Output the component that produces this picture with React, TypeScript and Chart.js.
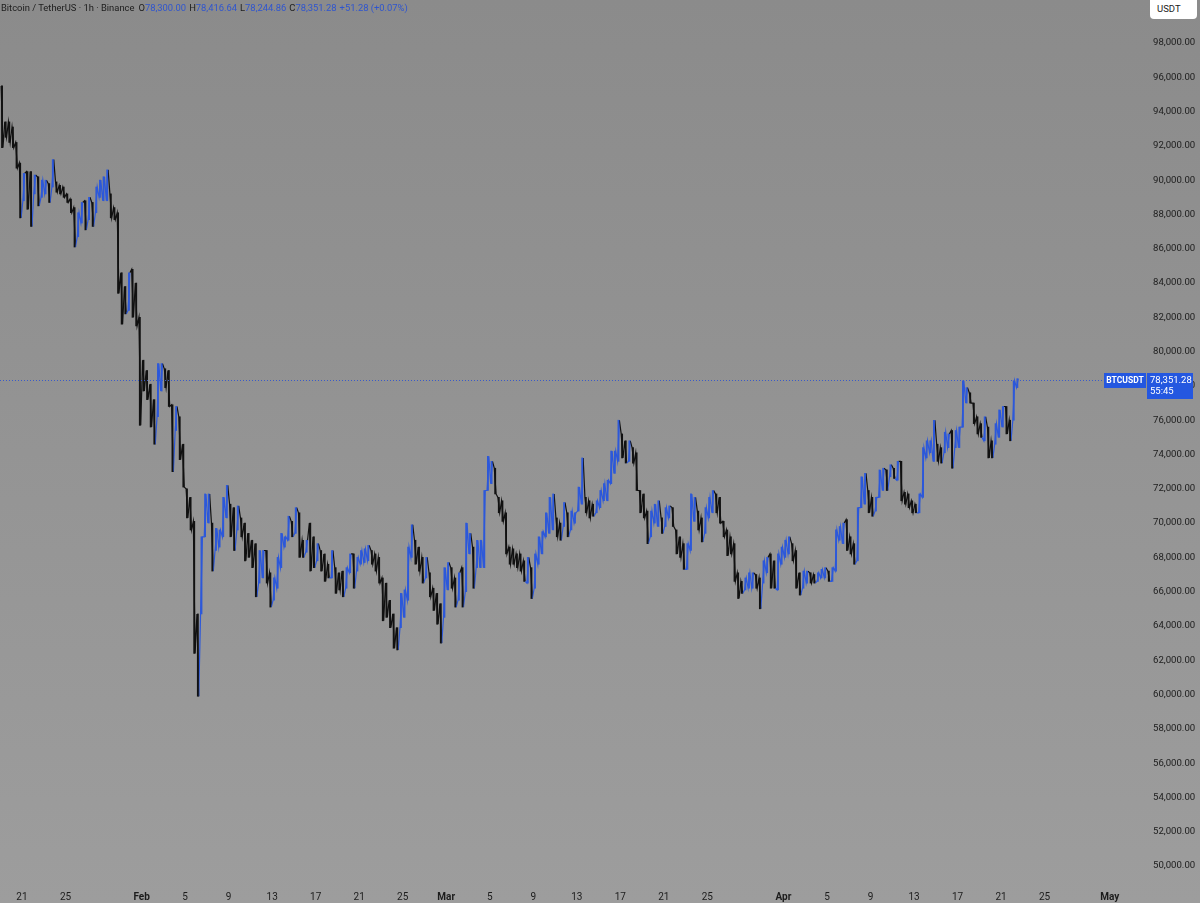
import React, { useEffect, useRef } from "react";
import { Chart, registerables } from "chart.js";

Chart.register(...registerables);

// BTCUSDT, 8-hour ranges (hours counted from 21 Jan 00:00)
const HOURS_PER_PERIOD = 8;
const FIRST_PERIOD_START = -48; // 19 Jan 00:00

const periodHigh = [
  95500, 93400, 93400, 93100, 92200, 91000, 90400, 90500, 90500, 90300, 90200, 90000,
  90000, 89800, 91200, 89900, 89700, 89600, 89200, 88900, 88400, 88100, 88700, 88800,
  89000, 88700, 89600, 90000, 90200, 90600, 89200, 88400, 88100, 84600, 83800, 84600,
  84800, 84000, 82000, 79500, 78900, 78100, 77200, 79300, 79300, 79000, 78900, 76900,
  76800, 76200, 74600, 72000, 71500, 70100, 64700, 69200, 71700, 71700, 70000, 69700,
  69600, 71500, 72200, 71100, 70900, 71000, 70300, 70000, 69400, 69000, 68800, 68400,
  68400, 68400, 67100, 66800, 68000, 69400, 69200, 70400, 70100, 70900, 70600, 69000,
  69000, 70000, 69200, 68800, 68400, 68200, 67600, 68400, 67400, 67100, 67200, 67400,
  68200, 68200, 68000, 68400, 68500, 68700, 68400, 68200, 68000, 66800, 66500, 65500,
  64700, 63900, 65900, 66100, 68600, 69900, 69000, 68600, 68000, 68000, 67100, 66200,
  65900, 65300, 67400, 67700, 67400, 66800, 67100, 67400, 70000, 69400, 68600, 69000,
  69000, 71900, 73900, 73600, 73200, 71500, 71300, 70600, 68600, 68500, 68200, 68200,
  67800, 68000, 67400, 68200, 69200, 69500, 70600, 71500, 71700, 70300, 70000, 71200,
  70600, 70700, 70600, 72100, 73800, 71500, 71300, 71100, 71300, 71900, 72300, 72500,
  74200, 74200, 76000, 75200, 74800, 74800, 74400, 74100, 71900, 71700, 70700, 70700,
  71100, 71300, 70300, 70900, 71000, 70900, 69600, 69200, 68800, 68800, 71700, 71500,
  70700, 70300, 70900, 71500, 71900, 71700, 71500, 70100, 69600, 69200, 68800, 67100,
  66600, 66800, 67100, 67100, 67000, 66800, 67800, 68000, 68200, 67800, 68200, 68600,
  69000, 69200, 68800, 68400, 67100, 67200, 67200, 67100, 67000, 67100, 67300, 67400,
  67200, 67400, 69600, 69800, 70000, 70200, 69200, 68800, 70900, 72700, 72900, 71900,
  71500, 71500, 73100, 73200, 73100, 73400, 73200, 73600, 73600, 71800, 71700, 71300,
  71100, 71700, 74400, 74800, 74800, 76000, 74600, 74400, 75300, 75200, 75400, 75400,
  75600, 78300, 77900, 77600, 77000, 76200, 75800, 76200, 75600, 74800, 75800, 76600,
  76800, 76800, 76000, 78300, 78420,
];

const periodLow = [
  91900, 92500, 92200, 91900, 90700, 87800, 88800, 88300, 87300, 89200, 88500, 89000,
  89200, 88700, 89600, 89300, 89200, 89000, 88700, 88100, 86100, 86700, 87500, 87100,
  87700, 87300, 88100, 89000, 88800, 88800, 87800, 87700, 83400, 81600, 82200, 82400,
  82000, 81500, 75700, 77700, 77200, 75600, 74600, 76200, 77700, 77900, 76800, 73000,
  75400, 73700, 72100, 70300, 69600, 62400, 59900, 64700, 69200, 70000, 67200, 68400,
  68600, 69200, 70300, 69200, 68400, 69600, 69200, 67800, 68000, 67400, 65700, 66500,
  66800, 66500, 65100, 65500, 66200, 67400, 68600, 69000, 69200, 69400, 68000, 68000,
  68300, 67200, 67400, 67800, 67200, 66600, 66800, 66800, 65900, 66100, 65700, 66200,
  67100, 66200, 67200, 67600, 67700, 67800, 67600, 67200, 66500, 64300, 64500, 63900,
  62700, 62600, 63900, 64500, 65500, 68000, 67600, 67200, 66500, 66800, 65700, 64900,
  64100, 63000, 64500, 66100, 66200, 65100, 65500, 65100, 66000, 68200, 66200, 67400,
  67400, 67400, 71900, 72300, 71700, 70600, 70100, 68200, 67600, 67600, 67400, 67200,
  66600, 66500, 65600, 66200, 67600, 68200, 69200, 69400, 69600, 69200, 69000, 69800,
  69200, 69600, 70000, 70700, 71100, 70600, 70300, 70400, 70600, 70900, 71300, 71300,
  72300, 72900, 73600, 73800, 73500, 73600, 73500, 71900, 70600, 70300, 68800, 69200,
  70000, 69800, 69400, 69800, 70300, 69800, 68200, 68000, 67300, 67300, 68400, 70100,
  69600, 68900, 69400, 70300, 70600, 70600, 70000, 69200, 68100, 68200, 66600, 65600,
  65900, 66100, 66200, 66200, 66200, 65000, 66500, 67100, 66200, 66200, 66100, 67600,
  68000, 68200, 67800, 66200, 65800, 66200, 66500, 66500, 66500, 66600, 66800, 66800,
  66600, 66600, 67200, 69000, 68800, 68400, 68200, 67600, 67800, 70900, 71100, 70600,
  70400, 70700, 71500, 71900, 71900, 72700, 72600, 72500, 71300, 71100, 70900, 70600,
  70600, 70600, 71500, 73800, 74100, 73600, 73600, 73500, 74100, 74400, 73200, 74400,
  74400, 75600, 77000, 77000, 75800, 75200, 75000, 74800, 73800, 73800, 74600, 75000,
  75600, 75200, 74800, 76000, 77900,
];

// time axis: days counted from 21 Jan
const tickDays = [0, 4, 11, 15, 19, 23, 27, 31, 35, 39, 43, 47, 51, 55, 59, 63, 70, 74, 78, 82, 86, 90, 94, 100];
const tickLabels = ["21", "25", "Feb", "5", "9", "13", "17", "21", "25", "Mar", "5", "9", "13", "17", "21", "25", "Apr", "5", "9", "13", "17", "21", "25", "May"];

const priceTicks = [
  50000, 52000, 54000, 56000, 58000, 60000, 62000, 64000, 66000, 68000, 70000, 72000, 74000,
  76000, 78000, 80000, 82000, 84000, 86000, 88000, 90000, 92000, 94000, 96000, 98000,
];

const lastPrice = 78351.28;
const lastPriceLabel = "78,351.28";
const countdownLabel = "55:45";
const symbolLabel = "BTCUSDT";

const UP = "#2c58da";
const DOWN = "#111111";
const TAG = "#2457e0";
const FONT = "Roboto";

function fmt(v: number): string {
  const s = Math.round(v).toString();
  return s.replace(/\B(?=(\d{3})+(?!\d))/g, ",") + ".00";
}

const bgPlugin = {
  id: "bgGradient",
  beforeDraw(chart: any) {
    const { ctx, width, height } = chart;
    const g = ctx.createLinearGradient(0, 0, 0, height);
    g.addColorStop(0, "#8b8b8b");
    g.addColorStop(1, "#9d9d9d");
    ctx.save();
    ctx.fillStyle = g;
    ctx.fillRect(0, 0, width, height);
    ctx.restore();
  },
};

const tagPlugin = {
  id: "lastPriceTag",
  afterDraw(chart: any) {
    const { ctx } = chart;
    const ys = chart.scales.y;
    const y = Math.round(ys.getPixelForValue(lastPrice)) + 0.5;
    ctx.save();
    ctx.strokeStyle = "#3a5bc8";
    ctx.lineWidth = 1;
    ctx.setLineDash([1, 2]);
    ctx.beginPath();
    ctx.moveTo(0, y);
    ctx.lineTo(1104, y);
    ctx.stroke();
    ctx.setLineDash([]);
    ctx.fillStyle = TAG;
    ctx.fillRect(1104, y - 7.5, 42, 15);
    ctx.fillRect(1147, y - 7.5, 46, 26);
    ctx.fillStyle = "#ffffff";
    ctx.textBaseline = "middle";
    ctx.textAlign = "center";
    ctx.font = `bold 8.5px ${FONT}`;
    ctx.fillText(symbolLabel, 1125, y + 0.5);
    ctx.textAlign = "left";
    ctx.font = `9.5px ${FONT}`;
    ctx.fillText(lastPriceLabel, 1150, y + 0.5);
    ctx.fillText(countdownLabel, 1150, y + 11.5);
    ctx.restore();
  },
};

export default function App() {
  const ref = useRef<HTMLCanvasElement>(null);

  useEffect(() => {
    document.body.style.margin = "0";
    const up = periodHigh.map((h, i) => {
      const mid = (h + periodLow[i]) / 2;
      const prev = i > 0 ? (periodHigh[i - 1] + periodLow[i - 1]) / 2 : mid + 1;
      return mid >= prev;
    });
    const wicks = periodHigh.map((h, i) => ({
      x: FIRST_PERIOD_START + HOURS_PER_PERIOD * (i + 0.5),
      y: [periodLow[i], h],
    }));
    const path: { x: number; y: number }[] = [];
    periodHigh.forEach((h, i) => {
      const c = FIRST_PERIOD_START + HOURS_PER_PERIOD * (i + 0.5);
      const first = up[i] ? periodLow[i] : h;
      const second = up[i] ? h : periodLow[i];
      path.push({ x: c - 2, y: first });
      path.push({ x: c + 2, y: second });
    });

    const chart = new Chart(ref.current as HTMLCanvasElement, {
      type: "bar",
      data: {
        datasets: [
          {
            type: "bar",
            data: wicks as any,
            backgroundColor: up.map((u) => (u ? UP : DOWN)),
            borderWidth: 0,
            borderSkipped: false,
            barThickness: 1.2,
            minBarLength: 1,
          } as any,
          {
            type: "line",
            data: path as any,
            borderWidth: 1.2,
            pointRadius: 0,
            tension: 0,
            borderColor: DOWN,
            segment: {
              borderColor: (ctx: any) => (up[Math.floor(ctx.p1DataIndex / 2)] ? UP : DOWN),
            },
          } as any,
        ],
      },
      options: {
        animation: false,
        responsive: true,
        maintainAspectRatio: false,
        layout: { padding: 0 },
        plugins: { legend: { display: false }, tooltip: { enabled: false } },
        scales: {
          x: {
            type: "linear",
            offset: false,
            min: -48.5,
            max: 2466.6,
            grid: { display: false, drawTicks: false, offset: false },
            border: { display: false },
            afterBuildTicks: (s: any) => {
              s.ticks = tickDays.map((d) => ({ value: d * 24 }));
            },
            afterFit: (s: any) => {
              s.height = 26;
              s.paddingLeft = 0;
              s.paddingRight = 0;
            },
            ticks: {
              autoSkip: false,
              maxRotation: 0,
              padding: 14,
              color: "#1c1c1c",
              font: (ctx: any) => ({
                family: FONT,
                size: 10,
                weight: /^[A-Za-z]/.test(tickLabels[ctx.index] || "") ? "bold" : "normal",
              }),
              callback: (_v: any, i: number) => tickLabels[i],
            },
          },
          y: {
            type: "linear",
            position: "right",
            min: 49358,
            max: 100508,
            grid: { display: false, drawTicks: false },
            border: { display: false },
            afterBuildTicks: (s: any) => {
              s.ticks = priceTicks.map((v) => ({ value: v }));
            },
            afterFit: (s: any) => {
              s.width = 60;
              s.paddingTop = 0;
              s.paddingBottom = 0;
            },
            ticks: {
              crossAlign: "near",
              padding: 13,
              color: "#1c1c1c",
              font: { family: FONT, size: 9.6 },
              callback: (v: any) => fmt(Number(v)),
            },
          },
        },
      } as any,
      plugins: [bgPlugin, tagPlugin],
    });
    return () => chart.destroy();
  }, []);

  const blue = { color: "#2f55cf" };
  return (
    <div style={{ position: "fixed", left: 0, top: 0, width: 1200, height: 903, overflow: "hidden" }}>
      <canvas ref={ref} />
      <div
        style={{
          position: "absolute",
          left: 1,
          top: 2,
          fontFamily: FONT,
          fontSize: 9.4,
          lineHeight: "12px",
          color: "#1c1c1c",
          whiteSpace: "nowrap",
        }}
      >
        <span>Bitcoin / TetherUS · 1h · Binance</span>
        <span style={{ marginLeft: 4 }}>O</span>
        <span style={blue}>78,300.00</span>
        <span style={{ marginLeft: 3 }}>H</span>
        <span style={blue}>78,416.64</span>
        <span style={{ marginLeft: 3 }}>L</span>
        <span style={blue}>78,244.86</span>
        <span style={{ marginLeft: 3 }}>C</span>
        <span style={blue}>78,351.28</span>
        <span style={{ ...blue, marginLeft: 3 }}>+51.28 (+0.07%)</span>
      </div>
      <div
        style={{
          position: "absolute",
          left: 1150,
          top: -3,
          width: 47,
          height: 22,
          background: "#ffffff",
          borderRadius: 4,
          fontFamily: FONT,
          fontSize: 9.5,
          lineHeight: "24px",
          color: "#1c1c1c",
          paddingLeft: 7,
          boxSizing: "border-box",
        }}
      >
        USDT
      </div>
    </div>
  );
}
